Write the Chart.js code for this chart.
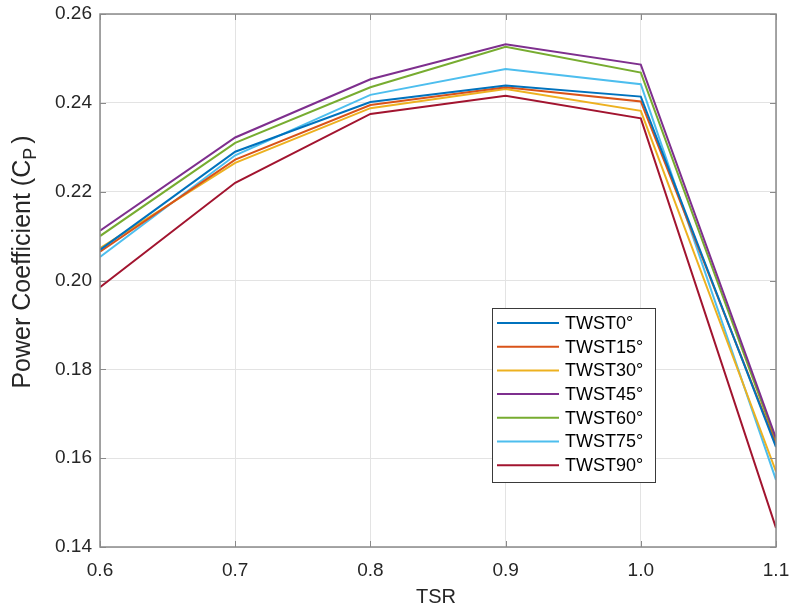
<!DOCTYPE html>
<html>
<head>
<meta charset="utf-8">
<script src="https://cdn.jsdelivr.net/npm/chart.js@4.4.1/dist/chart.umd.min.js"></script>
<style>
  html, body { margin: 0; padding: 0; background: #ffffff; overflow: hidden; }
  #wrap { width: 789px; height: 610px; }
</style>
</head>
<body>
<div id="wrap"><canvas id="cp"></canvas></div>
<script>
// Tip speed ratio values (x axis)
const tsr = [0.6, 0.7, 0.8, 0.9, 1.0, 1.1];

// Power coefficient for each twist angle
const twst0  = [0.2069, 0.2290, 0.2402, 0.2439, 0.2414, 0.1625];
const twst15 = [0.2065, 0.2272, 0.2395, 0.2435, 0.2403, 0.1630];
const twst30 = [0.2073, 0.2265, 0.2388, 0.2431, 0.2382, 0.1570];
const twst45 = [0.2112, 0.2322, 0.2453, 0.2532, 0.2486, 0.1645];
const twst60 = [0.2100, 0.2310, 0.2435, 0.2526, 0.2468, 0.1638];
const twst75 = [0.2053, 0.2282, 0.2418, 0.2476, 0.2442, 0.1551];
const twst90 = [0.1985, 0.2220, 0.2375, 0.2416, 0.2365, 0.1443];

const seriesNames = ['TWST0°', 'TWST15°', 'TWST30°', 'TWST45°', 'TWST60°', 'TWST75°', 'TWST90°'];
const seriesValues = [twst0, twst15, twst30, twst45, twst60, twst75, twst90];
const seriesColors = ['#0072BD', '#D95319', '#EDB120', '#7E2F8E', '#77AC30', '#4DBEEE', '#A2142F'];

const xTicks = [0.6, 0.7, 0.8, 0.9, 1.0, 1.1];
const yTicks = [0.14, 0.16, 0.18, 0.20, 0.22, 0.24, 0.26];

const FONT = '"Liberation Sans", Arial, Helvetica, sans-serif';
const AXIS_GRAY = '#8a8a8a';

const datasets = seriesNames.map((name, i) => ({
  label: name,
  data: tsr.map((x, j) => ({ x: x, y: seriesValues[i][j] })),
  borderColor: seriesColors[i],
  backgroundColor: seriesColors[i],
  borderWidth: 2,
  pointRadius: 0,
  tension: 0,
  fill: false
}));

// Box outline, inward tick marks, axis titles and an inset legend
const decorations = {
  id: 'decorations',
  afterDatasetsDraw(chart) {
    const ctx = chart.ctx;
    const a = chart.chartArea;
    const xs = chart.scales.x, ys = chart.scales.y;
    ctx.save();

    // axes box
    ctx.strokeStyle = AXIS_GRAY;
    ctx.lineWidth = 1.5;
    ctx.strokeRect(a.left, a.top, a.right - a.left, a.bottom - a.top);

    // inward tick marks on all four sides
    ctx.lineWidth = 1;
    const tl = 6;
    xTicks.forEach(v => {
      const px = Math.round(xs.getPixelForValue(v)) + 0.5;
      ctx.beginPath();
      ctx.moveTo(px, a.bottom); ctx.lineTo(px, a.bottom - tl);
      ctx.moveTo(px, a.top); ctx.lineTo(px, a.top + tl);
      ctx.stroke();
    });
    yTicks.forEach(v => {
      const py = Math.round(ys.getPixelForValue(v)) + 0.5;
      ctx.beginPath();
      ctx.moveTo(a.left, py); ctx.lineTo(a.left + tl, py);
      ctx.moveTo(a.right, py); ctx.lineTo(a.right - tl, py);
      ctx.stroke();
    });

    // x axis title
    ctx.fillStyle = '#262626';
    ctx.font = '20px ' + FONT;
    ctx.textAlign = 'center';
    ctx.textBaseline = 'middle';
    ctx.fillText('TSR', 436, 597);

    // y axis title with subscript P
    ctx.save();
    ctx.translate(23, 262);
    ctx.rotate(-Math.PI / 2);
    const main = 'Power Coefficient (C';
    const sub = 'P';
    const tail = ')';
    ctx.font = '25px ' + FONT;
    const wMain = ctx.measureText(main).width;
    const wTail = ctx.measureText(tail).width;
    ctx.font = '18px ' + FONT;
    const wSub = ctx.measureText(sub).width;
    const total = wMain + wSub + 4 + wTail;
    let cx = -total / 2;
    ctx.textAlign = 'left';
    ctx.textBaseline = 'middle';
    ctx.font = '25px ' + FONT;
    ctx.fillText(main, cx, 0);
    cx += wMain;
    ctx.font = '18px ' + FONT;
    ctx.fillText(sub, cx, 8);
    cx += wSub + 4;
    ctx.font = '25px ' + FONT;
    ctx.fillText(tail, cx, 0);
    ctx.restore();

    // legend box
    const lx = 492, ly = 308, lw = 163, lh = 174;
    ctx.fillStyle = '#ffffff';
    ctx.fillRect(lx, ly, lw, lh);
    ctx.strokeStyle = '#3a3a3a';
    ctx.lineWidth = 1;
    ctx.strokeRect(lx + 0.5, ly + 0.5, lw, lh);
    ctx.font = '18px ' + FONT;
    ctx.textAlign = 'left';
    ctx.textBaseline = 'middle';
    chart.data.datasets.forEach((ds, i) => {
      const yy = ly + 15 + i * 23.7;
      ctx.strokeStyle = ds.borderColor;
      ctx.lineWidth = 2;
      ctx.beginPath();
      ctx.moveTo(lx + 5, yy);
      ctx.lineTo(lx + 67, yy);
      ctx.stroke();
      ctx.fillStyle = '#000000';
      ctx.fillText(ds.label, lx + 73, yy + 1);
    });

    ctx.restore();
  }
};

new Chart(document.getElementById('cp'), {
  type: 'line',
  data: { datasets: datasets },
  options: {
    responsive: true,
    maintainAspectRatio: false,
    animation: false,
    layout: { padding: { top: 14, right: 13, left: 0, bottom: 0 } },
    plugins: {
      legend: { display: false },
      tooltip: { enabled: false }
    },
    scales: {
      x: {
        type: 'linear',
        min: 0.6,
        max: 1.1,
        afterBuildTicks(scale) { scale.ticks = xTicks.map(v => ({ value: v })); },
        afterFit(scale) {
          scale.height = 63;
          scale.paddingLeft = 0;
          scale.paddingRight = 0;
        },
        ticks: {
          callback: v => Number(v).toFixed(1),
          color: '#262626',
          font: { family: FONT, size: 19 },
          padding: 12,
          maxRotation: 0
        },
        grid: { color: '#e3e3e3', lineWidth: 1, drawTicks: false },
        border: { display: false }
      },
      y: {
        type: 'linear',
        min: 0.14,
        max: 0.26,
        afterBuildTicks(scale) { scale.ticks = yTicks.map(v => ({ value: v })); },
        afterFit(scale) {
          scale.width = 100;
          scale.paddingTop = 0;
          scale.paddingBottom = 0;
        },
        ticks: {
          callback: v => Number(v).toFixed(2),
          color: '#262626',
          font: { family: FONT, size: 19 },
          padding: 8
        },
        grid: { color: '#e3e3e3', lineWidth: 1, drawTicks: false },
        border: { display: false }
      }
    }
  },
  plugins: [decorations]
});
</script>
</body>
</html>
